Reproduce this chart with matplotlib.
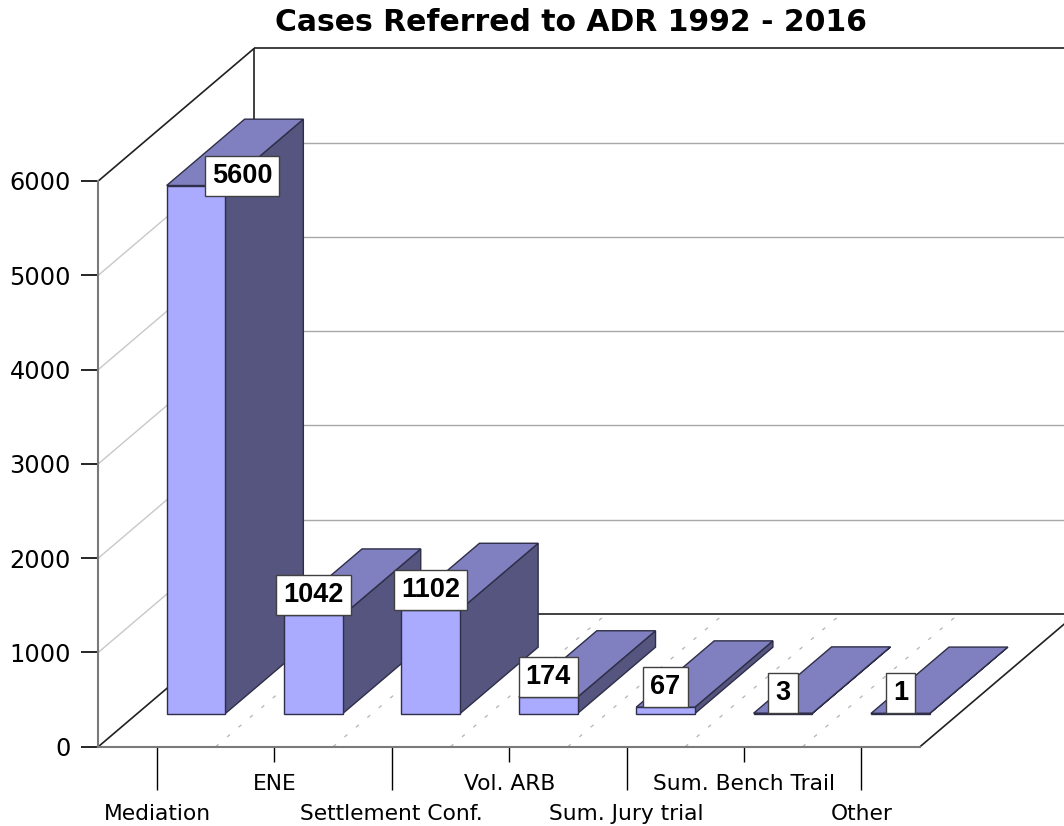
import matplotlib
matplotlib.use("Agg")
import matplotlib.pyplot as plt
from matplotlib.patches import Polygon

# ---- data ----
categories = ["Mediation", "ENE", "Settlement Conf.", "Vol. ARB",
              "Sum. Jury trial", "Sum. Bench Trail", "Other"]
cases = [5600, 1042, 1102, 174, 67, 3, 1]
y_ticks = [0, 1000, 2000, 3000, 4000, 5000, 6000]
title = "Cases Referred to ADR 1992 - 2016"

# ---- style ----
FRONT = "#AAAAFF"
TOP = "#8080C0"
SIDE = "#55557F"
EDGE = "#2E2E48"

plt.rcParams['font.family'] = ['DejaVu Sans']

fig = plt.figure(figsize=(10.64, 8.26), dpi=100)
ax = fig.add_axes([0.09239, 0.0960, 0.7723, 0.6849])
n = len(categories)
ymax = y_ticks[-1]
ax.set_xlim(0, n)
ax.set_ylim(0, ymax)

# oblique depth projection (full depth shift in data units)
DX, DY = 1.329, 1407.5


def P(x, y, d):
    return (x + d * DX, y + d * DY)


def seg(p, q, **kw):
    ax.plot([p[0], q[0]], [p[1], q[1]], clip_on=False, solid_capstyle='butt', **kw)


# back wall and left wall gridlines
for v in y_ticks[1:-1]:
    seg(P(0, v, 1), P(n, v, 1), color="#A8A8A8", lw=1.0, zorder=1)
    seg(P(0, v, 0), P(0, v, 1), color="#C8C8C8", lw=1.0, zorder=1)

# floor dashed separators
for i in range(1, n):
    seg(P(i, 0, 0), P(i, 0, 1), color="#B4B4B4", lw=0.9, zorder=1,
        dashes=(3, 9))

# frame edges
edge_kw = dict(color="#202020", lw=1.2, zorder=2)
seg(P(0, ymax, 1), P(n, ymax, 1), **edge_kw)
seg(P(0, 0, 1), P(0, ymax, 1), **edge_kw)
seg(P(0, ymax, 0), P(0, ymax, 1), **edge_kw)
seg(P(0, 0, 0), P(0, 0, 1), **edge_kw)
seg(P(0, 0, 1), P(n, 0, 1), **edge_kw)
seg(P(n, 0, 0), P(n, 0, 1), **edge_kw)

# bars
d0, d1 = 0.25, 0.75
for i, v in enumerate(cases):
    x0, x1 = i + 0.25, i + 0.75
    z = 3 + i * 0.01
    side = [P(x1, 0, d0), P(x1, 0, d1), P(x1, v, d1), P(x1, v, d0)]
    top = [P(x0, v, d0), P(x1, v, d0), P(x1, v, d1), P(x0, v, d1)]
    front = [P(x0, 0, d0), P(x1, 0, d0), P(x1, v, d0), P(x0, v, d0)]
    for pts, col in ((side, SIDE), (top, TOP), (front, FRONT)):
        ax.add_patch(Polygon(pts, closed=True, facecolor=col, edgecolor=EDGE,
                             lw=1.0, zorder=z, clip_on=False))

# value labels
lab_fs = 19.5
pad_frac = 0.26
pad_pt = pad_frac * lab_fs
for i, v in enumerate(cases):
    dx_pt, dy_pt = 0.0, pad_pt
    if i == 0:
        dx_pt, dy_pt = 33.1, pad_pt - 7.9
    ax.annotate(str(v), xy=P(i + 0.5, v, d0), xytext=(dx_pt, dy_pt),
                textcoords='offset points', ha='center', va='bottom',
                fontsize=lab_fs, fontweight='bold', family='Liberation Sans',
                bbox=dict(boxstyle=f'square,pad={pad_frac}', fc='white',
                          ec='#404040', lw=1.0),
                zorder=10, annotation_clip=False)

# axes / spines
for s in ('top', 'right'):
    ax.spines[s].set_visible(False)
for s in ('left', 'bottom'):
    ax.spines[s].set_color('#7A7A7A')
    ax.spines[s].set_linewidth(1.5)
    ax.spines[s].set_zorder(2.5)

ax.set_yticks(y_ticks)
ax.set_yticklabels([str(t) for t in y_ticks])
ax.tick_params(axis='y', length=12.5, width=1.2, color='black', pad=7.2,
               labelsize=17.3)

centers = [i + 0.5 for i in range(n)]
ax.set_xticks(centers[0::2])
ax.set_xticklabels(categories[0::2])
ax.set_xticks(centers[1::2], minor=True)
ax.set_xticklabels(categories[1::2], minor=True)
ax.tick_params(axis='x', which='major', length=30.7, width=1.0, color='black',
               pad=10.8, labelsize=15.7)
ax.tick_params(axis='x', which='minor', length=10.8, width=1.0, color='black',
               pad=9.1, labelsize=15.7)

fig.text(0.537, 1 - 30.7 / 826, title, ha='center', va='baseline',
         fontsize=21.5, fontweight='bold')

fig.savefig('out.png', dpi=100)
